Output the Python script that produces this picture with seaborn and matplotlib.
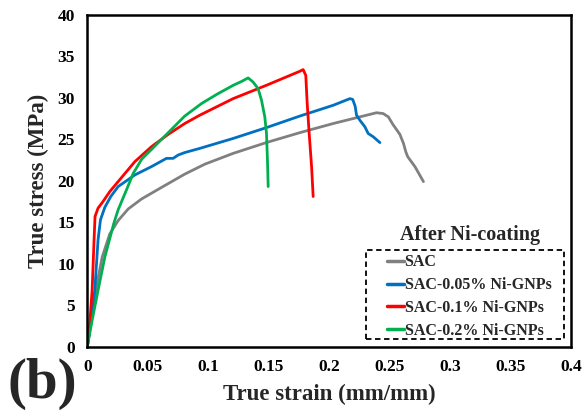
import matplotlib
matplotlib.use("Agg")
import matplotlib.pyplot as plt
import seaborn as sns
import pandas as pd
from matplotlib.lines import Line2D
from matplotlib.patches import Rectangle

# Tensile true stress-strain curves after Ni-coating
sac_strain = [0, 0.003, 0.007, 0.0123, 0.0186, 0.0255, 0.0338, 0.0448, 0.0531, 0.065,
              0.0806, 0.0972, 0.1206, 0.148, 0.1758, 0.2034, 0.2227, 0.2392, 0.2447,
              0.249, 0.2527, 0.2585, 0.2615, 0.2634, 0.265, 0.271, 0.278]
sac_stress = [0, 2.8, 6.8, 10.8, 13.6, 15.2, 16.6, 17.8, 18.5, 19.5,
              20.8, 22.0, 23.3, 24.6, 25.8, 26.9, 27.6, 28.2, 28.1,
              27.7, 26.8, 25.6, 24.5, 23.5, 22.9, 21.7, 19.9]

n005_strain = [0, 0.0062, 0.0089, 0.0109, 0.0145, 0.0194, 0.0255, 0.0393, 0.053, 0.0655,
               0.071, 0.0751, 0.0806, 0.093, 0.1206, 0.148, 0.1758, 0.2034, 0.2172,
               0.2195, 0.2215, 0.2227, 0.2254, 0.2296, 0.2323, 0.2365, 0.242]
n005_stress = [0, 6.8, 12.9, 15.3, 16.8, 18.1, 19.3, 20.7, 21.7, 22.7,
               22.7, 23.1, 23.4, 23.9, 25.1, 26.4, 27.8, 29.1, 29.9,
               29.8, 29.0, 27.9, 27.3, 26.5, 25.7, 25.3, 24.6]

n01_strain = [0, 0.0012, 0.004, 0.0056, 0.0064, 0.0089, 0.013, 0.0186, 0.0255, 0.0393,
              0.053, 0.067, 0.0806, 0.093, 0.1206, 0.148, 0.1758, 0.1785, 0.1807, 0.1818,
              0.1835, 0.1855, 0.1868]
n01_stress = [0, 1.2, 6.8, 12.9, 15.7, 16.7, 17.5, 18.7, 19.9, 22.3,
              24.1, 25.6, 26.9, 27.9, 29.9, 31.5, 33.2, 33.4, 32.7, 29.5,
              25.7, 21.7, 18.1]

n02_strain = [0, 0.0035, 0.0089, 0.0145, 0.022, 0.0255, 0.0324, 0.038, 0.045, 0.0608,
              0.0806, 0.0944, 0.1069, 0.1206, 0.128, 0.133, 0.1371, 0.1413, 0.1441,
              0.1468, 0.1482, 0.149, 0.1496]
n02_stress = [0, 2.8, 6.8, 10.8, 14.9, 16.5, 18.9, 20.9, 22.6, 24.9,
              27.8, 29.3, 30.4, 31.5, 32.0, 32.4, 31.9, 31.1, 29.7,
              27.7, 25.7, 22.5, 19.3]

labels = ["SAC", "SAC-0.05% Ni-GNPs", "SAC-0.1% Ni-GNPs", "SAC-0.2% Ni-GNPs"]
colors = ["#808080", "#0070C0", "#FF0000", "#00B050"]

frames = []
for lab, xs, ys in zip(labels,
                       [sac_strain, n005_strain, n01_strain, n02_strain],
                       [sac_stress, n005_stress, n01_stress, n02_stress]):
    frames.append(pd.DataFrame({"strain": xs, "stress": ys, "sample": lab}))
df = pd.concat(frames, ignore_index=True)

sns.set_style("white")
plt.rcParams["font.family"] = ["Liberation Serif", "DejaVu Serif"]
plt.rcParams["font.weight"] = "bold"

fig = plt.figure(figsize=(5.82, 4.12), dpi=100)
ax = fig.add_axes([0.150, 0.1585, 0.831, 0.8055])

sns.lineplot(data=df, x="strain", y="stress", hue="sample", hue_order=labels,
             palette=colors, estimator=None, sort=False, units="sample",
             linewidth=2.0, legend=False, ax=ax)
for ln in ax.get_lines():
    ln.set_solid_joinstyle("round")

ax.set_xlim(0, 0.4)
ax.set_ylim(0, 40)
ax.set_xticks([0, 0.05, 0.1, 0.15, 0.2, 0.25, 0.3, 0.35, 0.4])
ax.set_xticklabels(["0", "0.05", "0.1", "0.15", "0.2", "0.25", "0.3", "0.35", "0.4"])
ax.set_yticks(range(0, 41, 5))
for sp in ax.spines.values():
    sp.set_linewidth(1.8)
    sp.set_color("black")
ax.tick_params(direction="out", length=5, width=1.5, labelsize=12.5, pad=4,
               colors="black")
for t in ax.get_xticklabels() + ax.get_yticklabels():
    t.set_fontweight("bold")

ax.set_xlabel("True strain (mm/mm)", fontsize=16.5, fontweight="bold", labelpad=6)
ax.set_ylabel("True stress (MPa)", fontsize=16.5, fontweight="bold", labelpad=6)

# dashed legend box
box = Rectangle((366 / 582, 1 - 339 / 412), 198 / 582, 89 / 412,
                transform=fig.transFigure, fill=False, edgecolor="black",
                linewidth=1.3, linestyle=(0, (3, 2)), zorder=5)
fig.add_artist(box)

handles = [Line2D([], [], color=c, linewidth=2.5) for c in colors]
fig.legend(handles, labels, loc="upper left",
           bbox_to_anchor=(387 / 582, 1 - 254.5 / 412), borderaxespad=0,
           frameon=False, handlelength=1.05, handletextpad=0.05,
           labelspacing=0.42, borderpad=0,
           prop={"family": "Liberation Serif", "weight": "bold", "size": 11.5})

fig.text(470 / 582, 1 - 235 / 412, "After Ni-coating", ha="center", va="center",
         fontsize=14.5, fontweight="bold")
fig.text(7 / 582, 1 - 398 / 412, "(b)", ha="left", va="baseline",
         fontsize=41, fontweight="bold")

fig.savefig("out.png", dpi=100)
